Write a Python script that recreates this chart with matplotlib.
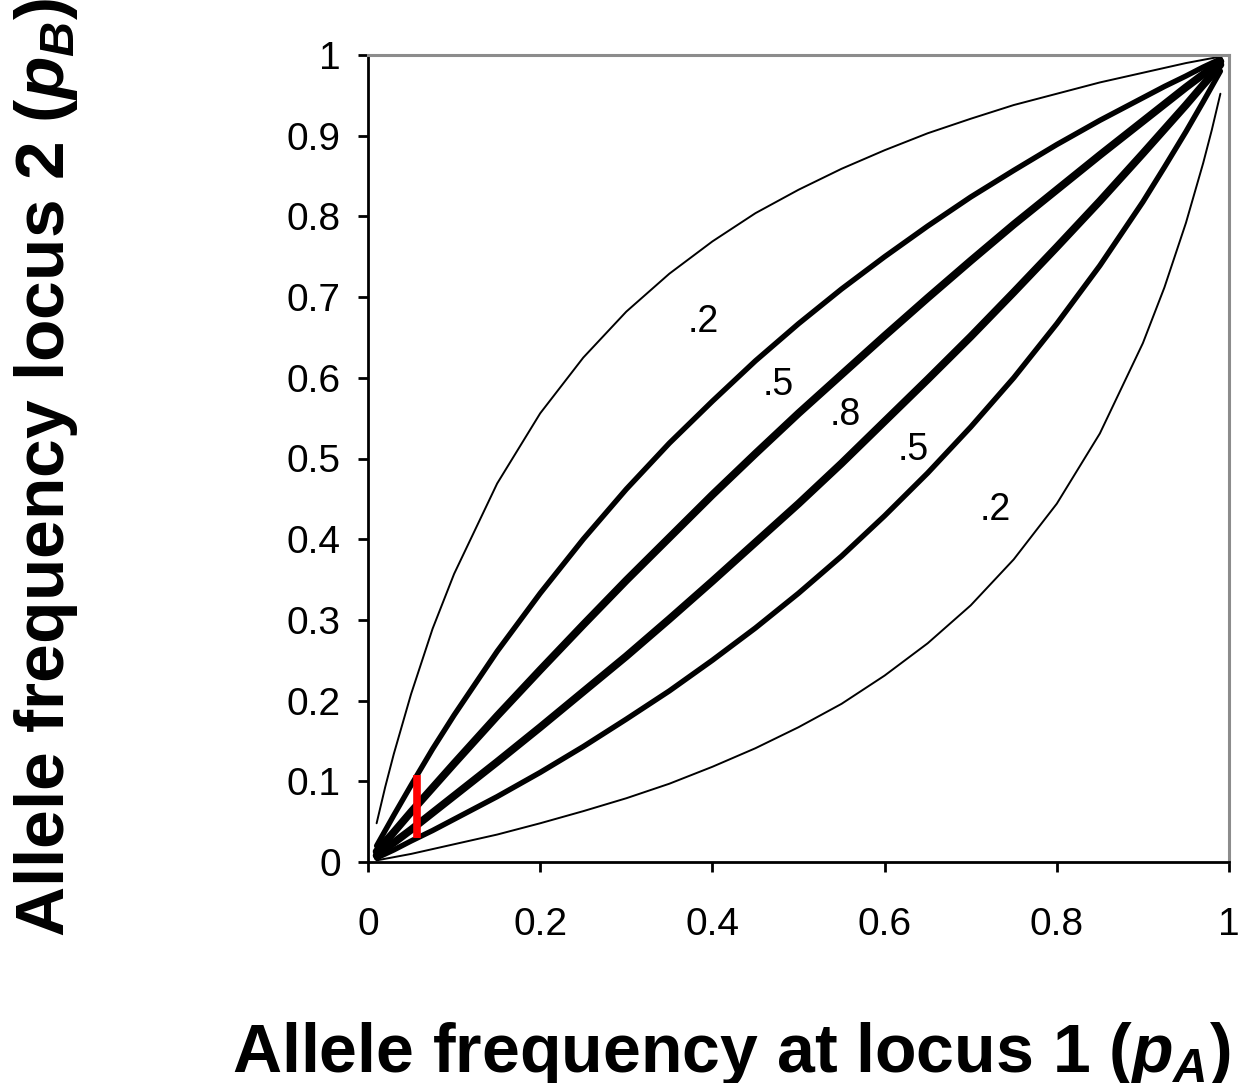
import matplotlib
matplotlib.use("Agg")
import matplotlib.pyplot as plt

plt.rcParams['font.family'] = ['Liberation Sans', 'DejaVu Sans']
plt.rcParams['mathtext.fontset'] = 'custom'
plt.rcParams['mathtext.it'] = 'Liberation Sans:bold:italic'
plt.rcParams['mathtext.rm'] = 'Liberation Sans:bold'
plt.rcParams['mathtext.bf'] = 'Liberation Sans:bold'

# Allele frequency at locus 1 (x)
pA = [0.01, 0.02, 0.03, 0.05, 0.075, 0.1, 0.15, 0.2, 0.25, 0.3, 0.35, 0.4, 0.45, 0.5,
      0.55, 0.6, 0.65, 0.7, 0.75, 0.8, 0.85, 0.9, 0.925, 0.95, 0.97, 0.98, 0.99]

# r^2 = .2 contours
upper_02 = [0.048, 0.093, 0.134, 0.208, 0.289, 0.357, 0.469, 0.556, 0.625, 0.682, 0.729,
            0.769, 0.804, 0.833, 0.859, 0.882, 0.903, 0.921, 0.938, 0.952, 0.966, 0.978,
            0.984, 0.990, 0.994, 0.996, 0.998]
lower_02 = [0.002, 0.004, 0.006, 0.010, 0.016, 0.022, 0.034, 0.048, 0.063, 0.079, 0.097,
            0.118, 0.141, 0.167, 0.196, 0.231, 0.271, 0.318, 0.375, 0.444, 0.531, 0.643,
            0.712, 0.792, 0.866, 0.907, 0.952]
# r^2 = .5 contours
upper_05 = [0.020, 0.039, 0.058, 0.095, 0.140, 0.182, 0.261, 0.333, 0.400, 0.462, 0.519,
            0.571, 0.621, 0.667, 0.710, 0.750, 0.788, 0.824, 0.857, 0.889, 0.919, 0.947,
            0.961, 0.974, 0.985, 0.990, 0.995]
lower_05 = [0.005, 0.010, 0.015, 0.026, 0.039, 0.053, 0.081, 0.111, 0.143, 0.177, 0.212,
            0.250, 0.290, 0.333, 0.379, 0.429, 0.482, 0.539, 0.600, 0.667, 0.739, 0.818,
            0.861, 0.905, 0.942, 0.961, 0.980]
# r^2 = .8 contours
upper_08 = [0.013, 0.025, 0.037, 0.062, 0.092, 0.122, 0.181, 0.238, 0.294, 0.349, 0.402,
            0.455, 0.506, 0.556, 0.604, 0.652, 0.699, 0.745, 0.790, 0.833, 0.876, 0.918,
            0.939, 0.960, 0.976, 0.984, 0.992]
lower_08 = [0.008, 0.016, 0.024, 0.040, 0.061, 0.082, 0.124, 0.167, 0.211, 0.255, 0.301,
            0.348, 0.396, 0.444, 0.494, 0.546, 0.598, 0.651, 0.706, 0.762, 0.819, 0.878,
            0.908, 0.938, 0.963, 0.975, 0.988]

# red marker bar
bar_x = 0.057
bar_y = [0.030, 0.108]

labels = [".2", ".5", ".8", ".5", ".2"]
label_x = [0.389, 0.476, 0.554, 0.633, 0.728]
label_y = [0.669, 0.591, 0.554, 0.511, 0.436]

xticks = [0, 0.2, 0.4, 0.6, 0.8, 1]
xticklabels = ["0", "0.2", "0.4", "0.6", "0.8", "1"]
yticks = [0, 0.1, 0.2, 0.3, 0.4, 0.5, 0.6, 0.7, 0.8, 0.9, 1]
yticklabels = ["0", "0.1", "0.2", "0.3", "0.4", "0.5", "0.6", "0.7", "0.8", "0.9", "1"]

W, H = 1239, 1083
fig = plt.figure(figsize=(W / 100, H / 100), dpi=100)
ax = fig.add_axes([368 / W, 1 - 862 / H, (1229 - 368) / W, (862 - 55) / H])

ax.plot(pA, upper_02, color='black', lw=1.4, solid_capstyle='round')
ax.plot(pA, lower_02, color='black', lw=1.4, solid_capstyle='round')
ax.plot(pA, upper_05, color='black', lw=3.9, solid_capstyle='round')
ax.plot(pA, lower_05, color='black', lw=3.9, solid_capstyle='round')
ax.plot(pA, upper_08, color='black', lw=5.6, solid_capstyle='round')
ax.plot(pA, lower_08, color='black', lw=5.6, solid_capstyle='round')

ax.plot([bar_x, bar_x], bar_y, color='#ff0000', lw=5.5, solid_capstyle='butt')

for t, x, y in zip(labels, label_x, label_y):
    ax.text(x, y, t, fontsize=27, ha='center', va='center', color='black')

ax.set_xlim(0, 1)
ax.set_ylim(0, 1)
ax.set_xticks(xticks)
ax.set_xticklabels(xticklabels)
ax.set_yticks(yticks)
ax.set_yticklabels(yticklabels)
ax.tick_params(axis='both', direction='out', length=7.5, width=2, labelsize=28, colors='black')
ax.tick_params(axis='x', pad=25)
ax.tick_params(axis='y', pad=12)

for s in ['left', 'bottom']:
    ax.spines[s].set_color('black')
    ax.spines[s].set_linewidth(2)
for s in ['top', 'right']:
    ax.spines[s].set_color('#8c8c8c')
    ax.spines[s].set_linewidth(2.2)

fig.text(232 / W, 1 - 1072 / H, r'Allele frequency at locus 1 ($p_A$)', fontsize=49,
         fontweight='bold', ha='left', va='baseline')
fig.text(64 / W, 1 - 937 / H, r'Allele frequency locus 2 ($p_B$)', fontsize=50,
         fontweight='bold', ha='left', va='baseline', rotation=90, rotation_mode='anchor')

fig.savefig('out.png', dpi=100)
